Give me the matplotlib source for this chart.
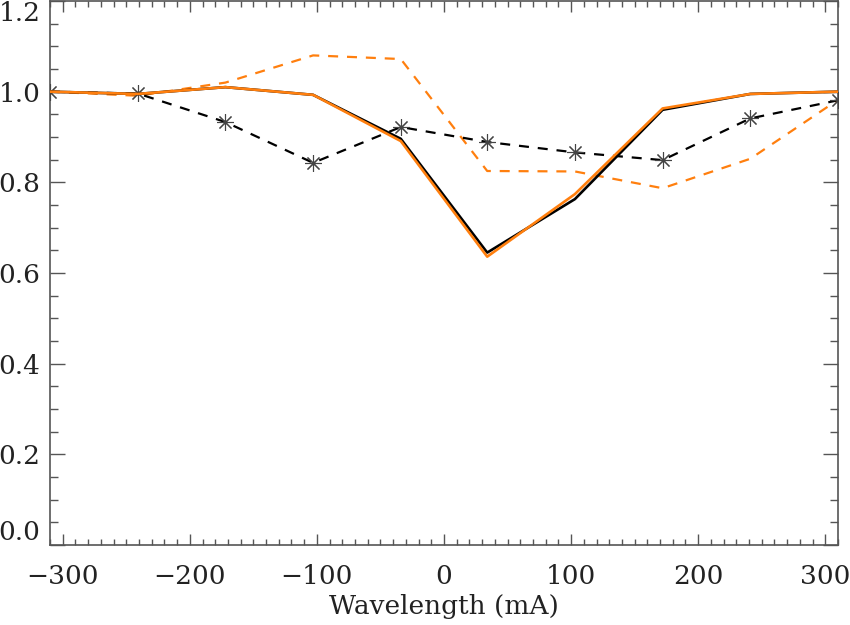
import matplotlib
matplotlib.use("Agg")
import matplotlib.pyplot as plt
from matplotlib.ticker import MultipleLocator

wavelength = [-310, -241, -172, -103, -34, 34, 103, 172, 241, 310]
black_solid = [1.0, 0.995, 1.01, 0.993, 0.896, 0.645, 0.763, 0.960, 0.995, 1.0]
orange_solid = [1.0, 0.995, 1.01, 0.993, 0.891, 0.636, 0.774, 0.963, 0.995, 1.0]
orange_dashed = [1.0, 0.991, 1.02, 1.08, 1.072, 0.825, 0.824, 0.787, 0.852, 0.982]
black_dashed = [1.0, 0.996, 0.933, 0.843, 0.922, 0.889, 0.866, 0.849, 0.941, 0.981]

orange = "#ff7f0e"
plt.rcParams['font.family'] = ['DejaVu Serif']
fig = plt.figure(figsize=(8.5, 6.25), dpi=100)
ax = fig.add_axes([50/850, 1-545/625, 788/850, 544/625])

ax.plot(wavelength, orange_dashed, color=orange, lw=1.6, dashes=(4.5, 4.0), zorder=2)
ax.plot(wavelength, black_dashed, color="black", lw=1.6, dashes=(4.5, 4.0),
        marker=(8, 2, 0), markersize=12, markeredgecolor="#444444",
        markeredgewidth=0.8, zorder=3)
ax.plot(wavelength, black_solid, color="black", lw=1.9, zorder=4)
ax.plot(wavelength, orange_solid, color=orange, lw=1.9, zorder=5)

ax.set_xlim(-310, 310)
ax.set_ylim(0.0, 1.2)
ax.xaxis.set_major_locator(MultipleLocator(100))
ax.xaxis.set_minor_locator(MultipleLocator(10))
ax.yaxis.set_major_locator(MultipleLocator(0.2))
ax.yaxis.set_minor_locator(MultipleLocator(0.05))
ax.yaxis.set_major_formatter(matplotlib.ticker.FormatStrFormatter('%.1f'))

fs = 19
ax.tick_params(axis='both', which='both', direction='in', top=True, right=True,
               colors='#555555', labelcolor='#222222', labelsize=fs, width=1.0)
ax.tick_params(axis='x', which='major', length=8, pad=14)
ax.tick_params(axis='x', which='minor', length=4)
ax.tick_params(axis='y', which='major', length=11, pad=7)
ax.tick_params(axis='y', which='minor', length=6)
for s in ax.spines.values():
    s.set_color('#555555')
    s.set_linewidth(1.2)

ax.set_xlabel("Wavelength (mA)", fontsize=fs, color='#222222', labelpad=3)

fig.canvas.draw()
for lab in ax.get_yticklabels():
    t = lab.get_text()
    if t == '1.2':
        lab.set_va('top')
    elif t == '0.0':
        lab.set_va('bottom')

fig.savefig("out.png", dpi=100)
